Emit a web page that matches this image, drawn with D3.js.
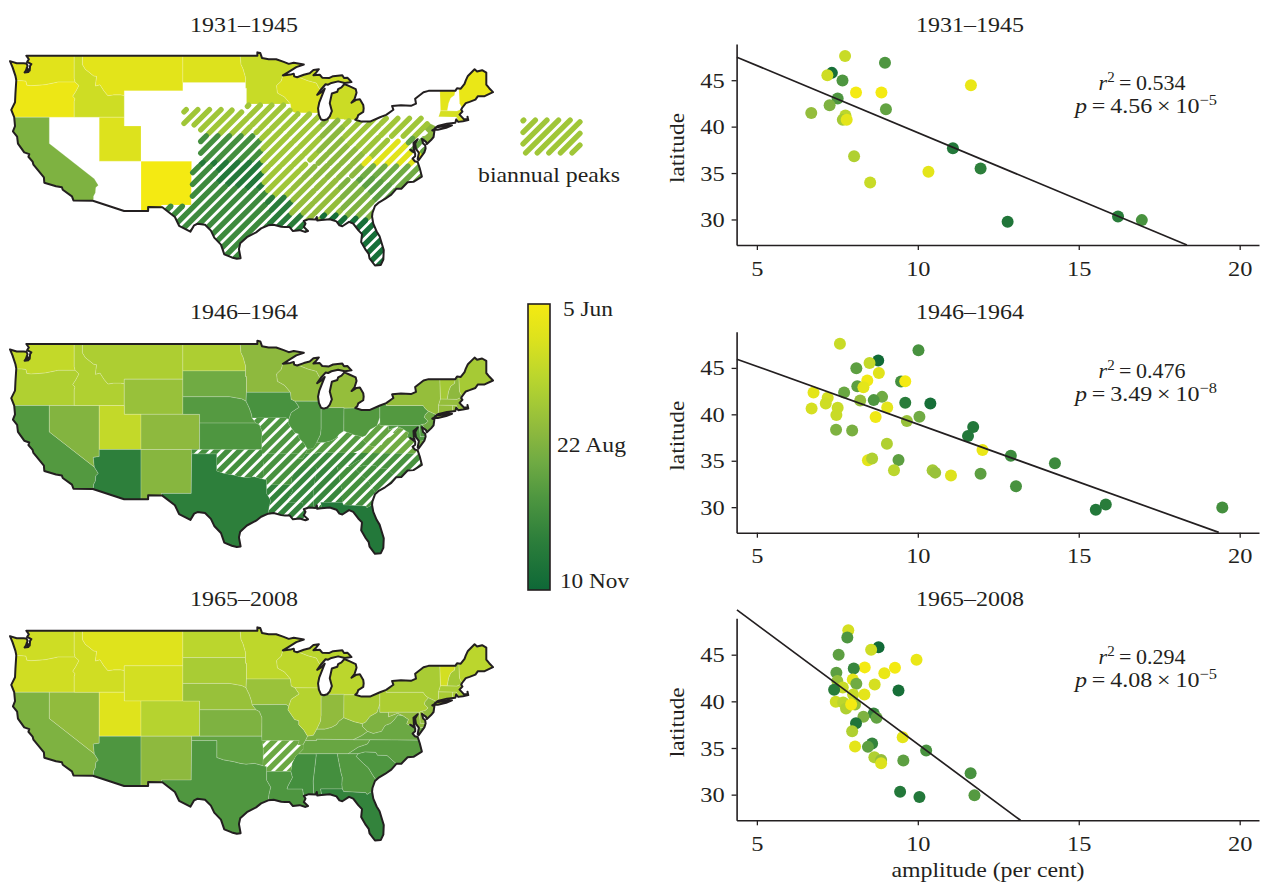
<!DOCTYPE html>
<html>
<head>
<meta charset="utf-8">
<style>
  html, body { margin: 0; background: #fff; }
  text { font-family: "Liberation Serif", serif; fill: #231f20; }
</style>
<script src="https://cdnjs.cloudflare.com/ajax/libs/d3/7.8.5/d3.min.js"></script>
</head>
<body>
<div id="chart"></div>
<script>
const periods = ['1931\u20131945', '1946\u20131964', '1965\u20132008']

// outline of the country, lon / lat
const coast = [[-124.7,48.38],[-123.9,48.15],[-123.1,48.15],[-122.75,48.12],[-122.6,47.85],[-122.8,47.3],[-122.95,47.1],[-122.5,47.15],[-122.7,47.6],[-122.35,47.3],[-122.3,47.85],[-122.15,48.05],[-122.65,48.3],[-122.45,48.6],[-122.75,49],[-95.15,49],[-95.15,49.38],[-94.8,49.3],[-94.6,48.75],[-93.8,48.6],[-92.9,48.6],[-92,48.3],[-91.4,48.07],[-90.8,48.2],[-89.6,48],[-90.5,47.7],[-91.5,47.1],[-92.1,46.75],[-91.2,46.85],[-90.8,46.95],[-90.75,46.65],[-90.4,46.55],[-89.6,46.83],[-88.9,47],[-88.45,47.37],[-87.8,47.47],[-88.2,47],[-88.45,46.78],[-87.7,46.83],[-87.4,46.5],[-86.6,46.45],[-86.1,46.67],[-85,46.77],[-84.8,46.47],[-84.4,46.5],[-84.1,46.2],[-83.9,46],[-84.7,45.9],[-85.5,46.08],[-86.3,45.9],[-86.7,45.7],[-87,45.75],[-87.6,45.1],[-88,44.55],[-87.5,44.85],[-87.1,45.25],[-87.5,44.3],[-87.75,43.7],[-87.9,43],[-87.8,42.3],[-87.55,41.75],[-87.2,41.65],[-86.8,41.77],[-86.5,42.1],[-86.25,42.7],[-86.5,43.6],[-86.25,44.7],[-85.6,44.9],[-85.5,45.2],[-85.1,45.4],[-84.75,45.78],[-84.1,45.5],[-83.4,45.2],[-83.3,44.8],[-83.55,44.05],[-83.9,43.65],[-83.3,44],[-82.9,44.05],[-82.5,43.4],[-82.45,43],[-82.5,42.6],[-83.1,42.25],[-83.2,41.95],[-83.45,41.72],[-82.7,41.5],[-81.7,41.5],[-80.5,42],[-79.76,42.27],[-78.9,42.85],[-79.05,43.27],[-78,43.37],[-76.8,43.3],[-76.2,43.55],[-76.3,44.1],[-75.3,44.85],[-74.7,45],[-71.5,45],[-71.3,45.3],[-70.85,45.25],[-70.4,45.8],[-70.25,46.2],[-70,46.7],[-69.2,47.45],[-68.9,47.2],[-68.3,47.35],[-67.8,47.07],[-67.8,45.7],[-67.45,45.3],[-67,44.85],[-68,44.4],[-68.8,44.4],[-69.1,44],[-69.8,43.75],[-70.25,43.6],[-70.7,43.05],[-70.8,42.85],[-70.65,42.65],[-71,42.3],[-70.65,41.95],[-70.5,41.78],[-70,41.78],[-70.05,42.05],[-69.95,41.67],[-70.6,41.55],[-71.15,41.47],[-71.4,41.75],[-71.5,41.37],[-72.5,41.27],[-73.6,41],[-73.9,40.8],[-74,40.65],[-74.25,40.5],[-74,40.45],[-74.1,39.75],[-74.4,39.4],[-74.9,38.95],[-75,39.2],[-75.5,39.55],[-75.35,39],[-75.1,38.8],[-75.05,38.45],[-75.2,38],[-75.9,37.1],[-76,37.25],[-75.85,37.95],[-76.2,38.4],[-76.3,39],[-76,39.5],[-76.5,39.1],[-76.45,38.4],[-76.35,38.05],[-76.9,38.3],[-76.3,37.9],[-76.3,37.55],[-76.6,37.3],[-76.35,37],[-76,36.9],[-75.75,36.2],[-75.5,35.25],[-76.5,34.65],[-77.2,34.6],[-77.95,33.87],[-78.55,33.85],[-79.15,33.2],[-79.9,32.7],[-80.7,32.25],[-81.1,31.9],[-81.4,31.1],[-81.45,30.7],[-81.3,29.9],[-80.9,29],[-80.55,28.45],[-80.05,26.9],[-80.1,25.8],[-80.4,25.2],[-81.1,25.13],[-81.75,25.95],[-81.85,26.45],[-82.2,26.9],[-82.75,27.8],[-82.65,28.7],[-83.1,29.15],[-83.7,29.9],[-84.2,30.1],[-85,29.6],[-85.35,29.7],[-85.7,30.15],[-86.5,30.4],[-87.5,30.3],[-88,30.25],[-88.05,30.65],[-88.2,30.35],[-89,30.4],[-89.6,30.2],[-89.4,29.9],[-89.6,29.5],[-89.1,29.05],[-89.4,28.95],[-90.1,29.15],[-90.9,29.05],[-91.3,29.5],[-91.85,29.5],[-92.3,29.53],[-93.2,29.77],[-93.85,29.7],[-94.7,29.35],[-95.3,28.9],[-96.4,28.35],[-97.2,27.65],[-97.35,27],[-97.15,25.96],[-97.6,25.9],[-98.2,26.05],[-99.1,26.4],[-99.5,27.5],[-100.3,28.3],[-100.7,29.1],[-101.4,29.77],[-102.3,29.88],[-102.7,29.7],[-103.15,28.98],[-104.5,29.65],[-105,30.65],[-106.5,31.75],[-108.2,31.78],[-108.2,31.33],[-111.07,31.33],[-114.8,32.5],[-117.12,32.53],[-117.3,33],[-118.4,33.75],[-118.5,34.03],[-119.2,34.15],[-120.6,34.55],[-120.65,35.15],[-121.9,36.6],[-122,36.95],[-122.5,37.5],[-122.4,37.8],[-123,38],[-123.75,39],[-123.85,39.8],[-124.35,40.4],[-124.1,41],[-124.2,42],[-124.55,42.84],[-124.1,43.7],[-124.05,44.7],[-123.95,46.2],[-124.05,46.7],[-124.4,47.7]]
const longIsland = [[-74.05,40.6],[-73.75,40.85],[-72.6,41],[-72.3,41.15],[-71.9,41.07],[-72.6,40.8],[-73.6,40.58]]

// state shapes run past the coast, the outline clips them
const stateCodes = ['WA','OR','CA','NV','ID','MT','WY','UT','AZ','CO','NM','ND','SD','NE','KS','OK','TX','MN','IA','MO','AR','LA','WI','IL','MS','MI','IN','KY','TN','AL','OH','WV','VA','NC','SC','GA','FL','PA','NY','NJ','DE','MD','CT','RI','MA','VT','NH','ME']
const stateRings = [
  [[[-126,50],[-117.03,50],[-117.03,46.42],[-116.92,46],[-118.98,46],[-119.3,45.93],[-120.5,45.7],[-121.2,45.65],[-122.2,45.58],[-122.7,45.65],[-122.8,46.1],[-123.3,46.15],[-126,46.2]]],
  [[[-126,46.2],[-123.3,46.15],[-122.8,46.1],[-122.7,45.65],[-122.2,45.58],[-121.2,45.65],[-120.5,45.7],[-119.3,45.93],[-118.98,46],[-116.92,46],[-116.46,45.6],[-116.85,44.9],[-117.2,44.4],[-116.93,44.1],[-117.03,43.8],[-117.03,42],[-126,42]]],
  [[[-126,42],[-120,42],[-120,39],[-114.63,35],[-114.15,34.27],[-114.45,34],[-114.5,33.4],[-114.72,33],[-114.72,32.72],[-114.8,32.5],[-117.12,30],[-126,30]]],
  [[[-120,42],[-114.04,42],[-114.04,36.2],[-114.75,36.1],[-114.63,35],[-120,39]]],
  [[[-117.03,50],[-116.05,50],[-116.05,48],[-115.7,47.45],[-114.7,46.7],[-114.35,46.65],[-114.5,45.55],[-113.95,45.7],[-113.45,44.95],[-113,44.45],[-112.3,44.55],[-111.5,44.55],[-111.05,44.48],[-111.05,42],[-117.03,42],[-117.03,43.8],[-116.93,44.1],[-117.2,44.4],[-116.85,44.9],[-116.46,45.6],[-116.92,46],[-117.03,46.42]]],
  [[[-116.05,50],[-104.05,50],[-104.05,45],[-111.05,45],[-111.05,44.48],[-111.5,44.55],[-112.3,44.55],[-113,44.45],[-113.45,44.95],[-113.95,45.7],[-114.5,45.55],[-114.35,46.65],[-114.7,46.7],[-115.7,47.45],[-116.05,48]]],
  [[[-111.05,45],[-104.05,45],[-104.05,41],[-111.05,41]]],
  [[[-114.04,42],[-111.05,42],[-111.05,41],[-109.05,41],[-109.05,37],[-114.04,37]]],
  [[[-114.04,37],[-109.05,37],[-109.05,30.5],[-114.8,30.5],[-114.8,32.5],[-114.72,32.72],[-114.72,33],[-114.5,33.4],[-114.45,34],[-114.15,34.27],[-114.63,35],[-114.75,36.1],[-114.04,36.2]]],
  [[[-109.05,41],[-102.05,41],[-102.05,37],[-109.05,37]]],
  [[[-109.05,37],[-103,37],[-103.05,32],[-106.62,32],[-106.5,31.7],[-106.5,31],[-109.05,30.5]]],
  [[[-104.05,50],[-97.2,50],[-97.2,49],[-97.1,48],[-96.85,47.5],[-96.55,46.5],[-96.56,45.94],[-104.05,45.94]]],
  [[[-104.05,45.94],[-96.56,45.94],[-96.56,45.3],[-96.45,45.3],[-96.45,43.5],[-96.5,42.5],[-97,42.75],[-98.5,43],[-104.05,43]]],
  [[[-104.05,43],[-98.5,43],[-97,42.75],[-96.5,42.5],[-96.1,41.7],[-95.85,41],[-95.77,40.58],[-95.3,40],[-102.05,40],[-102.05,41],[-104.05,41]]],
  [[[-102.05,40],[-95.3,40],[-94.9,39.8],[-94.6,39.1],[-94.62,37],[-102.05,37]]],
  [[[-103,37],[-94.62,37],[-94.43,35.4],[-94.48,33.64],[-95.5,33.9],[-96.5,33.8],[-97.2,33.9],[-98,34.1],[-99.2,34.3],[-100,34.56],[-100,36.5],[-103,36.5]]],
  [[[-103,36.5],[-100,36.5],[-100,34.56],[-99.2,34.3],[-98,34.1],[-97.2,33.9],[-96.5,33.8],[-95.5,33.9],[-94.48,33.64],[-94.04,33.55],[-94.04,32],[-93.55,31.2],[-93.75,30.4],[-93.85,29.7],[-93.7,25],[-100,25],[-104,28],[-106.5,31.7],[-106.62,32],[-103.05,32]]],
  [[[-97.2,49],[-97.2,50],[-89,50],[-89,47.5],[-92.1,46.75],[-92.3,46.1],[-92.85,45.6],[-92.75,44.75],[-91.9,44.3],[-91.2,43.5],[-96.45,43.5],[-96.45,45.3],[-96.56,45.3],[-96.56,45.94],[-96.55,46.5],[-96.85,47.5],[-97.1,48]]],
  [[[-96.45,43.5],[-91.2,43.5],[-91.1,42.7],[-90.65,42.5],[-90.15,41.8],[-91.1,41.2],[-91.4,40.4],[-91.73,40.6],[-95.77,40.58],[-95.85,41],[-96.1,41.7],[-96.5,42.5]]],
  [[[-95.77,40.58],[-91.73,40.6],[-91.4,40.4],[-91.5,40],[-90.7,38.9],[-90.2,38.75],[-90.2,38.3],[-89.6,37.7],[-89.15,37],[-89.4,36.5],[-89.7,36],[-90.35,36],[-90.15,36.5],[-94.62,36.5],[-94.62,37],[-94.6,39.1],[-94.9,39.8],[-95.3,40]]],
  [[[-94.62,36.5],[-90.15,36.5],[-90.35,36],[-89.7,36],[-89.7,35.5],[-90.1,35.1],[-90.6,34.7],[-91,33.9],[-91.15,33],[-94.04,33],[-94.04,33.55],[-94.48,33.64],[-94.43,35.4]]],
  [[[-94.04,33],[-91.15,33],[-90.95,32.3],[-91.5,31.3],[-91.6,31],[-89.75,31],[-89.6,30.2],[-88.5,30.1],[-88.5,28],[-93.7,28],[-93.85,29.7],[-93.75,30.4],[-93.55,31.2],[-94.04,32]]],
  [[[-92.1,46.75],[-91,47.1],[-90.3,46.6],[-89.1,46.15],[-88.1,45.9],[-87.8,45.35],[-87.6,45.1],[-86.9,45.4],[-86.9,42.49],[-87.8,42.49],[-90.65,42.5],[-91.1,42.7],[-91.2,43.5],[-91.9,44.3],[-92.75,44.75],[-92.85,45.6],[-92.3,46.1]]],
  [[[-90.65,42.5],[-87.3,42.49],[-87.3,41.9],[-87.53,41.7],[-87.53,39.35],[-87.6,38.7],[-87.95,38],[-88.05,37.8],[-88.45,37.1],[-89.15,37],[-89.6,37.7],[-90.2,38.3],[-90.2,38.75],[-90.7,38.9],[-91.5,40],[-91.4,40.4],[-91.1,41.2],[-90.15,41.8]]],
  [[[-90.3,35],[-88.2,35],[-88.1,34.9],[-88.47,31.9],[-88.4,29.9],[-89.3,30],[-89.6,30.2],[-89.75,31],[-91.6,31],[-91.5,31.3],[-90.95,32.3],[-91.15,33],[-91,33.9],[-90.6,34.7]]],
  [[[-90.3,46.6],[-89.5,47.3],[-87,48],[-83.5,46.5],[-83.5,45.8],[-86,45.5],[-87.6,45.1],[-87.8,45.35],[-88.1,45.9],[-89.1,46.15]],
   [[-87,41.76],[-84.8,41.76],[-84.8,41.7],[-83.45,41.72],[-83,41.8],[-82,43],[-82,45.5],[-84.7,45.82],[-85.5,45.8],[-86.2,45.3],[-87,42.5]]],
  [[[-87.53,41.76],[-84.8,41.76],[-84.82,39.1],[-85.4,38.7],[-85.7,38.3],[-86.3,38],[-87.1,37.8],[-88.05,37.8],[-87.95,38],[-87.6,38.7],[-87.53,39.35]]],
  [[[-89.4,36.5],[-89.15,37],[-88.45,37.1],[-88.05,37.8],[-87.1,37.8],[-86.3,38],[-85.7,38.3],[-85.4,38.7],[-84.82,39.1],[-83.6,38.65],[-82.6,38.42],[-82.6,38.1],[-81.97,37.54],[-82.7,37.05],[-83.68,36.6],[-88.07,36.65],[-88.07,36.5]]],
  [[[-89.7,36],[-89.4,36.5],[-88.07,36.5],[-88.07,36.65],[-83.68,36.6],[-81.68,36.59],[-82,36.1],[-83.1,35.75],[-84.3,35],[-90.3,35],[-90.1,35.1],[-89.7,35.5]]],
  [[[-88.2,35],[-85.6,35],[-85.15,32.8],[-85,32.3],[-85.05,31.5],[-85,31],[-87.6,31],[-87.45,30.3],[-87.45,29.9],[-88.4,29.9],[-88.47,31.9],[-88.1,34.9]]],
  [[[-84.8,41.7],[-83.45,41.72],[-83,42],[-80.52,42.2],[-80.52,40.64],[-80.85,39.7],[-81.7,39.25],[-82.2,38.6],[-82.6,38.42],[-83.6,38.65],[-84.82,39.1]]],
  [[[-82.6,38.42],[-82.2,38.6],[-81.7,39.25],[-80.85,39.7],[-80.52,40.64],[-80.52,39.72],[-79.48,39.72],[-79.48,39.2],[-78.4,39.62],[-77.75,39.32],[-78.35,39.4],[-78.87,38.77],[-79.3,38.42],[-79.9,38.2],[-80.3,37.55],[-81.3,37.3],[-81.97,37.54],[-82.6,38.1]]],
  [[[-83.68,36.6],[-82.7,37.05],[-81.97,37.54],[-81.3,37.3],[-80.3,37.55],[-79.9,38.2],[-79.3,38.42],[-78.87,38.77],[-78.35,39.4],[-77.75,39.32],[-77.1,38.9],[-77.3,38.4],[-76.3,37.95],[-76,37.9],[-75.2,38.03],[-74.7,37.9],[-74.7,36.55],[-75.8,36.55],[-81.68,36.59]]],
  [[[-84.3,35],[-83.1,35.75],[-82,36.1],[-81.68,36.59],[-75.8,36.55],[-74.5,36.55],[-75,34],[-77.5,33],[-78.55,33.85],[-79.67,34.8],[-80.8,34.82],[-81,35.15],[-82.3,35.2],[-83.1,35]]],
  [[[-83.1,35],[-82.3,35.2],[-81,35.15],[-80.8,34.82],[-79.67,34.8],[-78.55,33.85],[-77.5,33],[-80,31.5],[-80.5,31.5],[-81,32.05],[-81.4,32.6],[-81.9,33.4],[-82.5,33.9],[-83.35,34.7]]],
  [[[-85.6,35],[-83.1,35],[-83.35,34.7],[-82.5,33.9],[-81.9,33.4],[-81.4,32.6],[-81,32.05],[-80.5,31.5],[-81,30.7],[-81.45,30.72],[-82.05,30.36],[-82.2,30.57],[-84.85,30.7],[-85,31],[-85.05,31.5],[-85,32.3],[-85.15,32.8]]],
  [[[-87.6,31],[-85,31],[-84.85,30.7],[-82.2,30.57],[-82.05,30.36],[-81.45,30.72],[-80.5,30.6],[-79,27],[-79.5,24.5],[-82,24.5],[-84,28],[-85,29],[-87.45,29.9],[-87.45,30.3]]],
  [[[-80.52,42.2],[-79.76,42.27],[-79.76,42],[-75.35,42],[-75.05,41.6],[-74.7,41.36],[-75.1,40.95],[-75.2,40.65],[-74.75,40.2],[-75.13,39.9],[-75.5,39.84],[-75.79,39.72],[-80.52,39.72],[-80.52,40.64]]],
  [[[-79.76,42.27],[-79.76,42],[-75.35,42],[-75.05,41.6],[-74.7,41.36],[-73.9,41],[-73.65,41],[-73.5,41.3],[-73.5,42.05],[-73.27,42.75],[-73.35,45.05],[-73.35,46],[-75,46],[-77.5,44.5],[-79.5,43.6],[-79,42.7]],
   [[-74.1,40.4],[-71.7,40.9],[-71.7,41.2],[-73.8,40.95]]],
  [[[-73.9,41],[-74.7,41.36],[-75.1,40.95],[-75.2,40.65],[-74.75,40.2],[-75.13,39.9],[-75.5,39.84],[-75.3,39.6],[-74.9,38.6],[-73.5,39.5],[-73.7,40.55]]],
  [[[-75.79,39.72],[-75.5,39.84],[-75.3,39.6],[-74.9,38.6],[-74.8,38.45],[-75.05,38.45],[-75.7,38.46]]],
  [[[-79.48,39.72],[-75.79,39.72],[-75.7,38.46],[-75.05,38.45],[-74.8,38.45],[-74.7,37.9],[-75.2,38.03],[-76,37.9],[-76.3,37.95],[-77.3,38.4],[-77.1,38.9],[-77.75,39.32],[-78.4,39.62],[-79.48,39.2]]],
  [[[-73.5,42.05],[-71.8,42.02],[-71.85,41.3],[-71.9,41.1],[-73.65,40.95],[-73.65,41],[-73.5,41.3]]],
  [[[-71.8,42.02],[-71.38,42.02],[-71.12,41.5],[-71.1,41.2],[-71.85,41.3]]],
  [[[-73.5,42.05],[-73.27,42.75],[-72.46,42.73],[-71.3,42.7],[-70.9,42.88],[-70.3,42.9],[-69.7,42],[-69.7,41.3],[-71.1,41.2],[-71.12,41.5],[-71.38,42.02],[-71.8,42.02]]],
  [[[-73.35,45.05],[-71.5,45.05],[-71.6,44.5],[-72.05,44.2],[-72.3,43.6],[-72.46,42.73],[-73.27,42.75]]],
  [[[-71.5,45.05],[-71.3,45.3],[-71.08,45.3],[-71,43.6],[-70.7,43.05],[-70.3,42.9],[-70.9,42.88],[-71.3,42.7],[-72.46,42.73],[-72.3,43.6],[-72.05,44.2],[-71.6,44.5]]],
  [[[-71.08,45.3],[-70,48],[-66.5,48],[-66.5,44],[-70.3,42.9],[-70.7,43.05],[-71,43.6]]]
]

// peak day of the year for each state in stateCodes, null = no clear peak
const statePeak1 = [172,162,235,null,184,170,null,175,null,null,156,175,null,214,270,295,275,188,214,214,214,290,177,214,222,186,227,227,227,222,216,216,172,243,254,235,306,214,null,227,251,251,null,null,180,169,null,164]
const statePeak2 = [191,203,260,232,203,205,219,191,286,226,230,205,243,259,263,270,286,226,267,263,267,282,224,263,279,221,263,259,275,279,260,251,243,267,270,270,295,260,221,243,263,263,221,221,221,211,226,210]
const statePeak3 = [184,183,235,224,183,173,181,173,263,199,226,196,208,219,235,251,262,194,218,243,246,263,194,200,270,196,224,238,248,270,208,235,246,256,263,260,282,205,208,224,224,224,208,208,208,181,211,196]
const biannual1 = ['NE','KS','OK','TX','IA','MO','AR','LA','IL','MS','IN','KY','TN','AL','OH','WV','VA','NC','SC','GA','FL','PA','DE','MD']
const biannual2 = ['OK','MO','AR','LA','MS','KY','TN','AL','WV','VA','NC','SC','GA']
const biannual3 = ['AR']

// scatter points: amplitude, latitude, peak day
const amp1 = [7.74,8.98,7.33,7.19,7.66,11.65,8.08,8.87,7.51,7.26,9.01,6.69,7.75,7.67,7.79,11.09,8.02,11.95,10.33,8.52,16.22,16.96,12.79]
const lat1 = [47.62,46.87,45.79,45.54,44.96,44.46,43.67,43.67,43.03,42.31,41.88,41.48,41.2,40.73,40.73,37.68,36.82,35.49,35.13,33.98,30.32,29.93,29.75]
const day1 = [188,263,306,184,263,164,156,156,263,235,251,222,196,211,169,295,203,286,169,188,290,267,298]
const amp2 = [7.58,10.02,8.77,8.5,8.09,8.79,9.48,9.61,8.43,8.12,8.31,6.76,7.71,8.89,7.2,8.21,8.63,9.61,10.39,7.14,6.7,7.51,9.05,7.47,8.69,10.05,9.66,7.46,7.96,11.72,11.56,9.04,12.01,12.89,8.45,8.58,9.4,14.26,9.26,10.46,10.54,11.03,11.95,13.05,15.84,15.53,19.46]
const lat2 = [47.61,46.9,45.79,45.54,44.96,44.46,43.53,43.57,43.64,43.03,42.92,42.35,42.35,41.88,41.78,41.49,41.53,41.24,41.17,41.17,40.63,40.7,40.74,39.92,39.7,39.74,39.27,38.34,38.27,38.63,37.66,36.84,36.16,35.55,35.05,35.23,35.08,34.72,33.97,33.97,33.72,33.4,33.61,32.25,30.28,29.71,29.96]
const day2 = [188,267,311,191,254,172,270,156,159,254,169,169,247,243,180,222,263,290,306,184,180,188,169,188,159,243,219,235,238,295,295,203,164,275,169,203,254,275,196,211,219,175,254,267,290,295,270]
const amp3 = [7.84,7.81,8.78,8.55,7.54,9.96,8.35,9.29,8.01,8.96,7.47,7.98,7.5,8.09,8.66,7.67,7.4,9.4,7.99,8.34,7.45,7.68,8.05,7.77,7.93,8.63,8.31,8.72,8.08,7.96,9.53,10.26,8.58,8.45,8.05,8.65,8.86,8.86,9.55,11.64,11.76,9.45,10.05]
const lat3 = [47.61,46.83,45.79,45.54,45,44.46,43.64,43.6,43.53,43,43.07,42.35,42.17,41.88,41.81,41.49,41.24,41.17,40.74,40.74,39.95,39.88,39.67,39.24,39.67,38.7,38.34,38.23,37.66,36.8,36.16,34.72,35.48,35.12,35.15,34,33.72,33.36,33.65,32.29,29.93,30.32,29.75]
const day3 = [180,263,311,184,254,164,156,156,279,164,254,169,219,243,180,188,290,306,188,169,184,196,219,203,156,279,235,251,298,203,169,267,282,254,169,203,222,175,254,267,259,295,295]

// fitted lines: two ends
const fitAmp1 = [4.38,18.36]
const fitLat1 = [47.48,27.25]
const fitAmp2 = [4.38,19.35]
const fitLat2 = [45.94,27.28]
const fitAmp3 = [4.38,13.19]
const fitLat3 = [49.8,27.25]

const r2Labels = ['0.534','0.476','0.294']
const pLabels = ['4.56','3.49','4.08']
const pExponents = ['\u22125','\u22128','\u22125']

const xTicks = [5,10,15,20]
const yTicks = [30,35,40,45]

// colour bar
const scaleDays = [156,175,196,211,227,243,263,286,314]
const scaleColors = ['#f4ea12','#dde21d','#bbd62d','#a4c936','#8cb83e','#70ab43','#4e9640','#2d7f3b','#0e6837']
const barLabels = ['5 Jun','22 Aug','10 Nov']
const barLabelDays = [156,235,314]

const width = 1262
const height = 883
const mapTops = [55.7,344,630.7]
const plotTops = [44,331.7,618.3]
const plotBottoms = [245,532.7,820.3]
const titleY = [32,319,606]

const colorScale = d3.scaleLinear().domain(scaleDays).range(scaleColors)

const svg = d3
  .select('#chart')
  .append('svg')
  .attr('width', width)
  .attr('height', height)
  .style('display', 'block')

const defs = svg.append('defs')

// the reference type is set a little wider than Liberation Serif, so fit each label to its width
function label(parent, str, length) {
  return parent.append('text')
    .text(str)
    .attr('font-size', 21)
    .attr('textLength', length)
    .attr('lengthAdjust', 'spacingAndGlyphs')
}

// cut a ring into the diagonal stripes that run through it
function stripes(rings, shorten) {
  const period = 11.6
  const segments = []
  const sums = rings.flat().map(p => p[0] + p[1])
  const first = Math.floor(d3.min(sums) / period) - 1
  const last = Math.ceil(d3.max(sums) / period)
  for (let k = first; k <= last; k++) {
    const c = (k + 0.5) * period
    rings.forEach(ring => {
      const hits = []
      ring.forEach((a, i) => {
        const b = ring[(i + 1) % ring.length]
        const sa = a[0] + a[1]
        const sb = b[0] + b[1]
        if ((sa < c) !== (sb < c)) {
          hits.push(a[0] + (b[0] - a[0]) * (c - sa) / (sb - sa))
        }
      })
      hits.sort(d3.ascending)
      for (let i = 0; i + 1 < hits.length; i += 2) {
        const d = shorten / Math.SQRT2
        if (hits[i + 1] - hits[i] > 2 * d) {
          segments.push([[hits[i] + d, c - hits[i] - d], [hits[i + 1] - d, c - hits[i + 1] + d]])
        }
      }
    })
  }
  return segments
}

function drawStripes(parent, segments, color, cap) {
  parent.append('g')
    .selectAll('line')
    .data(segments)
    .enter()
    .append('line')
    .attr('x1', s => s[0][0])
    .attr('y1', s => s[0][1])
    .attr('x2', s => s[1][0])
    .attr('y2', s => s[1][1])
    .attr('stroke', color)
    .attr('stroke-width', 5.4)
    .attr('stroke-linecap', cap)
}

function drawMap(i, peaks, biannual, roundEnds) {
  const lonScale = d3.scaleLinear().domain([-124.7, -67]).range([10, 493])
  const latScale = d3.scaleLinear().domain([49, 25.13]).range([mapTops[i], mapTops[i] + 209.8])
  const toPixel = p => [lonScale(p[0]), latScale(p[1])]
  const line = d3.line().curve(d3.curveLinearClosed)
  const outline = line(coast.map(toPixel)) + line(longIsland.map(toPixel))

  defs.append('clipPath').attr('id', 'us' + i).append('path').attr('d', outline)

  const g = svg.append('g').attr('clip-path', 'url(#us' + i + ')')

  const states = stateCodes.map((code, n) => ({
    code: code,
    peak: peaks[n],
    rings: stateRings[n].map(r => r.map(toPixel))
  }))
  const solid = states.filter(d => d.peak !== null && !biannual.includes(d.code))
  const striped = states.filter(d => biannual.includes(d.code))

  g.selectAll('path.state')
    .data(solid)
    .enter()
    .append('path')
    .attr('class', 'state')
    .attr('d', d => d.rings.map(r => line(r)).join(''))
    .attr('fill', d => colorScale(d.peak))
    .attr('stroke', '#fff')
    .attr('stroke-opacity', 0.4)
    .attr('stroke-width', 0.5)

  striped.forEach((d, n) => {
    const ringsPath = d.rings.map(r => line(r)).join('')
    if (roundEnds) {
      drawStripes(g, stripes(d.rings, 1.6), colorScale(d.peak), 'round')
    } else {
      // run the stripes long and let the state's own shape cut them square
      const id = 'st' + i + '-' + n
      defs.append('clipPath').attr('id', id).append('path').attr('d', ringsPath)
      drawStripes(g.append('g').attr('clip-path', 'url(#' + id + ')'), stripes(d.rings, -8), colorScale(d.peak), 'butt')
    }
  })

  svg.append('path')
    .attr('d', outline)
    .attr('fill', 'none')
    .attr('stroke', '#231f20')
    .attr('stroke-width', 2)
    .attr('stroke-linejoin', 'round')

  label(svg, periods[i], 108)
    .attr('x', 244)
    .attr('y', titleY[i])
    .attr('text-anchor', 'middle')
}

function drawScatter(i, amps, lats, days, fitAmp, fitLat) {
  const x = d3.scaleLinear().domain([4.37, 20.6]).range([736.6, 1259])
  const y = d3.scaleLinear().domain([27.25, 48.9]).range([plotBottoms[i], plotTops[i]])
  const g = svg.append('g')

  g.append('g')
    .attr('transform', 'translate(0,' + plotBottoms[i] + ')')
    .call(d3.axisBottom(x).tickValues(xTicks).tickSize(5).tickSizeOuter(0).tickPadding(10).tickFormat(d3.format('d')))
  g.append('g')
    .attr('transform', 'translate(736.6,0)')
    .call(d3.axisLeft(y).tickValues(yTicks).tickSize(5).tickSizeOuter(0).tickPadding(7).tickFormat(d3.format('d')))

  g.selectAll('.domain').attr('stroke', '#231f20').attr('stroke-width', 1.6)
  g.selectAll('.tick line').attr('stroke', '#231f20').attr('stroke-width', 1.3)
  g.selectAll('.tick text')
    .attr('font-size', 22)
    .attr('font-family', '"Liberation Serif", serif')
    .attr('textLength', d => String(d).length * 12.2)
    .attr('lengthAdjust', 'spacingAndGlyphs')
    .style('fill', '#231f20')

  g.selectAll('circle')
    .data(amps)
    .enter()
    .append('circle')
    .attr('cx', d => x(d))
    .attr('cy', (d, n) => y(lats[n]))
    .attr('r', 6)
    .attr('fill', (d, n) => colorScale(days[n]))

  g.append('line')
    .attr('x1', x(fitAmp[0]))
    .attr('y1', y(fitLat[0]))
    .attr('x2', x(fitAmp[1]))
    .attr('y2', y(fitLat[1]))
    .attr('stroke', '#231f20')
    .attr('stroke-width', 1.7)

  label(g, periods[i], 108)
    .attr('x', 970)
    .attr('y', titleY[i])
    .attr('text-anchor', 'middle')

  label(g, 'latitude', 70)
    .attr('transform', 'translate(684,' + (plotTops[i] + 104) + ') rotate(-90)')
    .attr('text-anchor', 'middle')

  const r2 = g.append('text')
    .attr('x', 1142)
    .attr('y', plotTops[i] + 46)
    .attr('text-anchor', 'middle')
    .attr('font-size', 22)
  r2.append('tspan').text('r').attr('font-style', 'italic')
  r2.append('tspan').text('2').attr('dy', -8).attr('font-size', 15)
  r2.append('tspan').text('\u2009=\u2009' + r2Labels[i]).attr('dy', 8)

  const p = g.append('text')
    .attr('x', 1146)
    .attr('y', plotTops[i] + 69)
    .attr('text-anchor', 'middle')
    .attr('font-size', 22)
    .attr('textLength', 142)
    .attr('lengthAdjust', 'spacingAndGlyphs')
  p.append('tspan').text('p').attr('font-style', 'italic')
  p.append('tspan').text('\u2009=\u2009' + pLabels[i] + '\u2009\u00d7\u200910')
  p.append('tspan').text(pExponents[i]).attr('dy', -8).attr('font-size', 15)
}

drawMap(0, statePeak1, biannual1, true)
drawMap(1, statePeak2, biannual2, false)
drawMap(2, statePeak3, biannual3, false)

drawScatter(0, amp1, lat1, day1, fitAmp1, fitLat1)
drawScatter(1, amp2, lat2, day2, fitAmp2, fitLat2)
drawScatter(2, amp3, lat3, day3, fitAmp3, fitLat3)

label(svg, 'amplitude (per cent)', 193)
  .attr('x', 988)
  .attr('y', 877)
  .attr('text-anchor', 'middle')

// biannual legend
const legendBox = [[522, 119], [581, 119], [581, 154], [522, 154]]
drawStripes(svg, stripes([legendBox], 1.5), colorScale(214), 'round')

label(svg, 'biannual peaks', 142)
  .attr('x', 549)
  .attr('y', 182)
  .attr('text-anchor', 'middle')

// colour bar
const gradient = defs.append('linearGradient')
  .attr('id', 'peakBar')
  .attr('x1', 0).attr('y1', 0).attr('x2', 0).attr('y2', 1)
gradient.selectAll('stop')
  .data(scaleDays)
  .enter()
  .append('stop')
  .attr('offset', d => (d - scaleDays[0]) / (scaleDays[scaleDays.length - 1] - scaleDays[0]))
  .attr('stop-color', d => colorScale(d))

const barY = d3.scaleLinear().domain([156, 314]).range([304, 590])
svg.append('rect')
  .attr('x', 528)
  .attr('y', barY(156))
  .attr('width', 22)
  .attr('height', barY(314) - barY(156))
  .attr('fill', 'url(#peakBar)')
  .attr('stroke', '#231f20')
  .attr('stroke-width', 1.6)

barLabels.forEach((d, n) => {
  label(svg, d, [50, 69, 69][n])
    .attr('x', [563, 557, 560][n])
    .attr('y', barY(barLabelDays[n]) + [12, 5, -2][n])
})
</script>
</body>
</html>
